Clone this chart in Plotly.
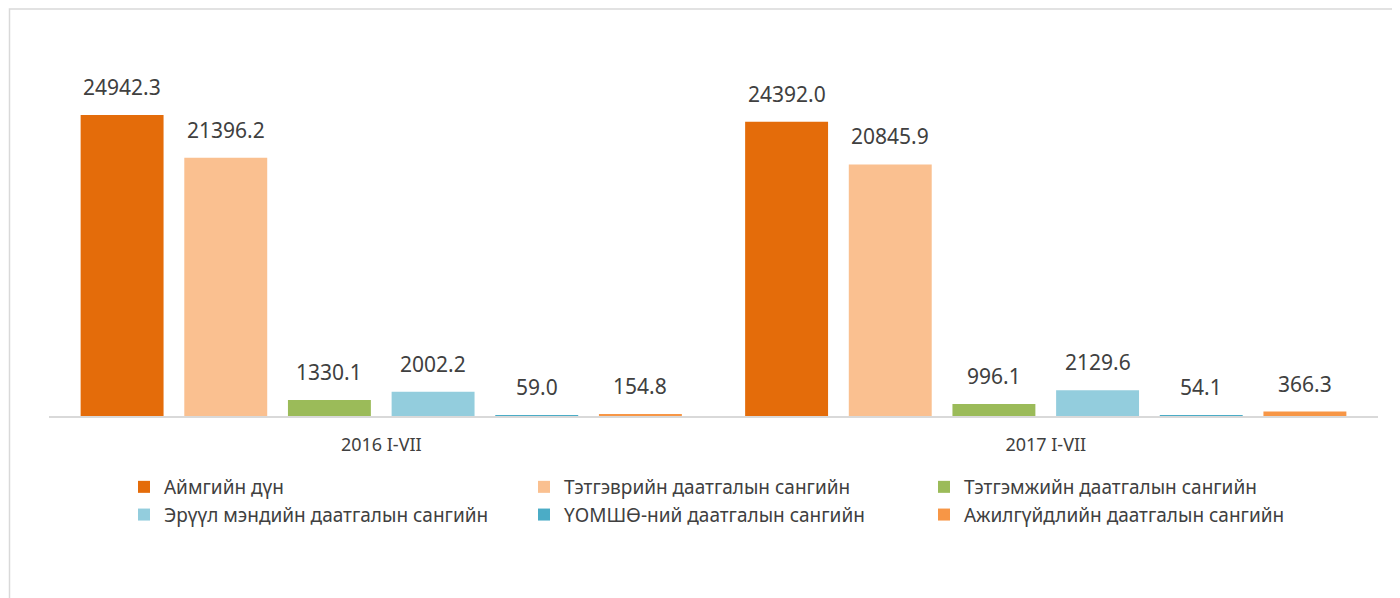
import plotly.graph_objects as go

categories = ["2016 I-VII", "2017 I-VII"]
series_names = [
    "Аймгийн дүн",
    "Тэтгэврийн даатгалын сангийн",
    "Тэтгэмжийн даатгалын сангийн",
    "Эрүүл мэндийн даатгалын сангийн",
    "ҮОМШӨ-ний даатгалын сангийн",
    "Ажилгүйдлийн даатгалын сангийн",
]
aimag_total = [24942.3, 24392.0]
pension = [21396.2, 20845.9]
benefit = [1330.1, 996.1]
health = [2002.2, 2129.6]
injury = [59.0, 54.1]
unemployment = [154.8, 366.3]
series_values = [aimag_total, pension, benefit, health, injury, unemployment]
colors = ["#E46C0A", "#FAC090", "#9BBB59", "#93CDDD", "#4BACC6", "#F79646"]

W, H = 1392, 590
ML, MR, MT, MB = 41, 22, 46, 182
BARGAP = 0.064
GROUPGAP = 0.2
FONT = "Noto Sans"

fig = go.Figure()
for name, vals, col in zip(series_names, series_values, colors):
    fig.add_trace(go.Bar(
        x=categories, y=vals, name=name, marker=dict(color=col, line=dict(width=0)),
    ))

# data labels as annotations placed over each bar
plot_w = W - ML - MR
plot_h = H - MT - MB
cat_w = plot_w / len(categories)
slot = cat_w * (1 - BARGAP) / len(series_names)
n = len(series_names)
for i, vals in enumerate(series_values):
    for c, v in zip(categories, vals):
        fig.add_annotation(
            x=c, y=v, xref="x", yref="y", text=f"{v:.1f}", showarrow=False,
            xshift=(i - (n - 1) / 2) * slot, yshift=12, yanchor="bottom",
            font=dict(family=FONT, size=21, color="#404040"),
        )

# outer chart border (extends past right and bottom edge)
fig.add_shape(
    type="rect", xref="paper", yref="paper",
    x0=(1.5 - ML) / plot_w, x1=(1440 - ML) / plot_w,
    y0=(H - MB - 660) / plot_h, y1=(H - MB - 1) / plot_h,
    line=dict(color="#D9D9D9", width=1.5), fillcolor="rgba(0,0,0,0)", layer="below",
)

fig.update_layout(
    width=W, height=H,
    margin=dict(l=ML, r=MR, t=MT, b=MB),
    barmode="group", bargap=BARGAP, bargroupgap=GROUPGAP,
    plot_bgcolor="white", paper_bgcolor="white",
    font=dict(family=FONT, color="#404040"),
    showlegend=True,
    legend=dict(
        orientation="h", x=(116 - ML) / plot_w, xanchor="left",
        y=(H - MB - 460) / plot_h, yanchor="top",
        entrywidth=355, entrywidthmode="pixels",
        font=dict(family=FONT, size=19, color="#404040"),
        traceorder="normal",
    ),
    xaxis=dict(
        showline=True, linecolor="#D9D9D9", linewidth=1.5, ticks="",
        tickfont=dict(family=FONT, size=18, color="#404040"),
        ticklabelstandoff=12, showgrid=False,
    ),
    yaxis=dict(range=[0, 30000], visible=False, showgrid=False),
)

fig.write_html("out.html")
